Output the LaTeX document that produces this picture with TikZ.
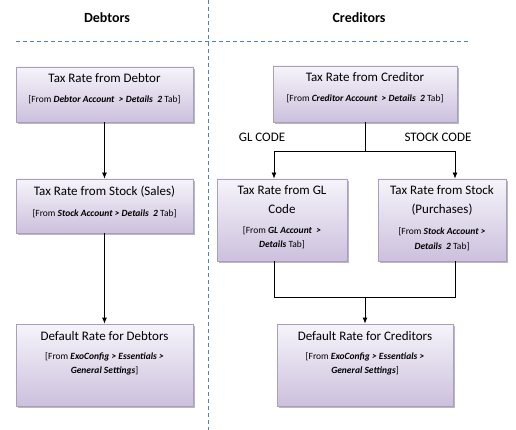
\documentclass[tikz,border=0pt]{standalone}
\usepackage{fontspec}
\setmainfont{Carlito}
\usetikzlibrary{arrows.meta,positioning,shadows}
\definecolor{boxtop}{RGB}{246,244,250}
\definecolor{boxbot}{RGB}{204,192,221}
\definecolor{boxline}{RGB}{170,158,192}
\definecolor{ruleblue}{RGB}{79,129,189}
\newcommand{\bi}[1]{\textbf{\textit{#1}}}

\begin{document}
\begin{tikzpicture}[x=1pt,y=-1pt,>={Latex[length=6pt,width=5pt]}]
\tikzstyle{panel}=[draw=boxline,line width=0.8pt,top color=boxtop,bottom color=boxbot,drop shadow={shadow xshift=2pt,shadow yshift=-2pt,fill=black!50,opacity=0.55},inner sep=0pt]
\tikzstyle{ttl}=[inner sep=0pt,align=center,font=\fontsize{13}{19}\selectfont]
\tikzstyle{src}=[inner sep=0pt,align=center,font=\fontsize{9.5}{14.5}\selectfont]
\tikzstyle{head}=[font=\fontsize{14}{16}\selectfont\bfseries]
\tikzstyle{lbl}=[font=\fontsize{13}{15}\selectfont]
\tikzstyle{divider}=[ruleblue,line width=0.8pt,dash pattern=on 4pt off 3pt]
\tikzstyle{link}=[line width=0.8pt]
\useasboundingbox (0,0) rectangle (516,430);
% headings and dividers
\node[head] (debh) at (107,18) {Debtors};
\node[head] (creh) at (359,18) {Creditors};
\draw[divider] (208,0) -- (208,430);
\draw[divider] (16,41) -- (469,41);
% debtors side
\node[panel,minimum width=177,minimum height=55] (deb1) at (104.5,94.5) {};
\node[ttl,below=7pt of deb1.north] (deb1t) {Tax Rate from Debtor};
\node[src,below=12pt of deb1t] (deb1s) {[From \bi{Debtor Account}~ \bi{> Details}~ \bi{2} Tab]};
\node[panel,minimum width=177,minimum height=54] (deb2) at (104.5,206) {};
\node[ttl,below=7pt of deb2.north] (deb2t) {Tax Rate from Stock (Sales)};
\node[src,below=12pt of deb2t] (deb2s) {[From \bi{Stock Account} \bi{> Details}~ \bi{2} Tab]};
\node[panel,minimum width=177,minimum height=82] (deb3) at (104.5,365) {};
\node[ttl,below=8pt of deb3.north] (deb3t) {Default Rate for Debtors};
\node[src,below=11pt of deb3t] (deb3s) {[From \bi{ExoConfig} \bi{>} \bi{Essentials} \bi{>}\\\bi{General Settings}]};
\draw[link,->] (deb1) -- (deb2);
\draw[link,->] (deb2) -- (deb3);
% creditors side
\node[panel,minimum width=184,minimum height=56] (cre1) at (365,94) {};
\node[ttl,below=7pt of cre1.north] (cre1t) {Tax Rate from Creditor};
\node[src,below=12pt of cre1t] (cre1s) {[From \bi{Creditor Account}~ \bi{> Details}~ \bi{2} Tab]};
\node[panel,minimum width=130,minimum height=82] (gl) at (282,220) {};
\node[ttl,below=7pt of gl.north] (glt) {Tax Rate from GL\\Code};
\node[src,below=12pt of glt] (gls) {[From \bi{GL Account}~ \bi{>}\\\bi{Details} Tab]};
\node[panel,minimum width=128,minimum height=82] (stk) at (442,220) {};
\node[ttl,below=7pt of stk.north] (stkt) {Tax Rate from Stock\\(Purchases)};
\node[src,below=12pt of stkt] (stks) {[From \bi{Stock Account} \bi{>}\\\bi{Details}~ \bi{2} Tab]};
\node[panel,minimum width=176,minimum height=82] (cre3) at (365,365) {};
\node[ttl,below=8pt of cre3.north] (cre3t) {Default Rate for Creditors};
\node[src,below=11pt of cre3t] (cre3s) {[From \bi{ExoConfig} \bi{>} \bi{Essentials} \bi{>}\\\bi{General Settings}]};
\node[lbl] (gllbl) at (262,137) {GL CODE};
\node[lbl] (stklbl) at (438,137) {STOCK CODE};
\coordinate (fork) at (365,151);
\coordinate (join) at (365,297);
\draw[link] (cre1) -- (fork);
\draw[link,->] (fork) -| ([xshift=-8pt]gl.north);
\draw[link,->] (fork) -| ([xshift=13pt]stk.north);
\draw[link] ([xshift=-8pt]gl.south) |- (join);
\draw[link] ([xshift=13pt]stk.south) |- (join);
\draw[link,->] (join) -- (cre3);
\end{tikzpicture}
\end{document}
